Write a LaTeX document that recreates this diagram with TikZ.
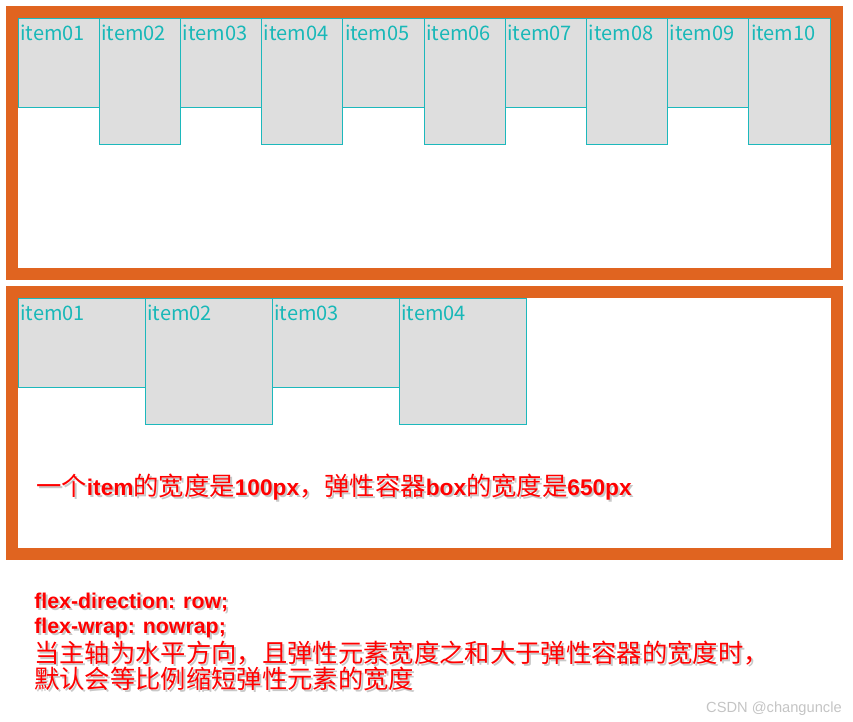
\documentclass[tikz,border=0pt]{standalone}
\usepackage{fontspec}
\setmainfont{Liberation Sans}
\newfontfamily\cjk{Noto Sans CJK SC}
\usepackage{tikz}
\usetikzlibrary{positioning}
\definecolor{cFrame}   {HTML}{E06420}
\definecolor{cItemLine}{HTML}{1CB8BC}
\definecolor{cItemText}{HTML}{18B8B8}
\definecolor{cItemFill}{HTML}{DEDEDE}
\definecolor{cNote}    {HTML}{FF0000}
\definecolor{cShadow}  {HTML}{C8C8C8}
\definecolor{cMark}    {HTML}{C4C4C4}
\newcommand\hz[1]{{\cjk\fontsize{19}{22}\selectfont #1}}
\newcommand\widthnote{\hz{一个}\textbf{item}\hz{的宽度是}\textbf{100px}\hz{，弹性容器}\textbf{box}\hz{的宽度是}\textbf{650px}}

\begin{document}
\begin{tikzpicture}[x=0.75pt, y=-0.75pt,
    itembox/.style={fill=cItemFill, draw=cItemLine, line width=0.75pt},
    itemlabel/.style={anchor=base west, inner sep=0pt, text=cItemText,
      font=\cjk\fontsize{15}{18}\selectfont},
    note/.style={anchor=base west, inner sep=0pt, text=cNote,
      font=\fontsize{16}{20}\selectfont, text depth=0.12em},
    noteshadow/.style={note, text=cShadow},
  ]
  \useasboundingbox (0,0) rectangle (853,721);
  % frames
  \fill[cFrame] (6,6) rectangle (843,280);
  \fill[white] (18,18) rectangle (831,268);
  \fill[cFrame] (6,286) rectangle (843,560);
  \fill[white] (18,298) rectangle (831,548);
  % ten items, no wrap
  \foreach \n [count=\i] in {01,02,03,04,05,06,07,08,09,10} {
    \pgfmathsetmacro\xa{18+(\i-1)*81.2}
    \pgfmathsetmacro\yb{isodd(\i) ? 107 : 144}
    \draw[itembox] (\xa,18) rectangle (\xa+81.2,\yb);
    \node[itemlabel] (top\n) at (\xa+2,40) {item\n};
  }
  % four items
  \foreach \n [count=\i] in {01,02,03,04} {
    \pgfmathsetmacro\xa{18+(\i-1)*127}
    \pgfmathsetmacro\yb{isodd(\i) ? 387 : 424}
    \draw[itembox] (\xa,298) rectangle (\xa+127,\yb);
    \node[itemlabel] (low\n) at (\xa+2,320) {item\n};
  }
  % notes
  \node[noteshadow, font=\fontsize{17}{20}\selectfont] at (38,497) {\widthnote};
  \node[note, font=\fontsize{17}{20}\selectfont] (boxnote) at (36,495) {\widthnote};
  \foreach \y/\txt [count=\k] in {
      608/{\textbf{flex-direction: row;}},
      633/{\textbf{flex-wrap: nowrap;}},
      662/{\hz{当主轴为水平方向，且弹性元素宽度之和大于弹性容器的宽度时，}},
      688/{\hz{默认会等比例缩短弹性元素的宽度}}} {
    \node[noteshadow] at (36,\y+2) {\txt};
    \node[note] (rule\k) at (34,\y) {\txt};
  }
  \node[anchor=base east, inner sep=0pt, text=cMark, font=\fontsize{11}{13}\selectfont]
    (mark) at (842,712) {CSDN @changuncle};
\end{tikzpicture}
\end{document}
